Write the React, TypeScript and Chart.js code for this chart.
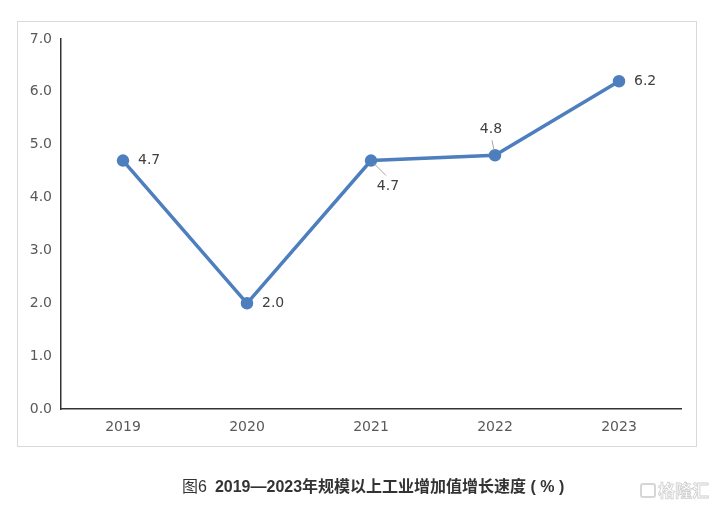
import React, { useEffect, useRef } from "react";
import { Chart, registerables } from "chart.js";

Chart.register(...registerables);

const years = ["2019", "2020", "2021", "2022", "2023"];
const growth = [4.7, 2.0, 4.7, 4.8, 6.2];
const valueLabels = ["4.7", "2.0", "4.7", "4.8", "6.2"];
const titlePrefix = "图6";
const titleMain = "2019—2023年规模以上工业增加值增长速度 ( % )";
const watermark = "格隆汇";

// label placement per point: dx, dy, alignment, optional leader line
const placement = [
  { dx: 15, dy: 0, align: "left", leader: null },
  { dx: 15, dy: 0, align: "left", leader: null },
  { dx: 17, dy: 26, align: "center", leader: [3, 3, 15, 15] },
  { dx: -4, dy: -26, align: "center", leader: [-1, -5, -3, -15] },
  { dx: 15, dy: 0, align: "left", leader: null },
];

const labelPlugin = {
  id: "valueLabels",
  afterDatasetsDraw(chart: any) {
    const ctx = chart.ctx;
    const meta = chart.getDatasetMeta(0);
    ctx.save();
    meta.data.forEach((pt: any, i: number) => {
      const p = placement[i];
      if (p.leader) {
        ctx.strokeStyle = "#a6a6a6";
        ctx.lineWidth = 1;
        ctx.beginPath();
        ctx.moveTo(pt.x + p.leader[0], pt.y + p.leader[1]);
        ctx.lineTo(pt.x + p.leader[2], pt.y + p.leader[3]);
        ctx.stroke();
      }
      ctx.fillStyle = "#404040";
      ctx.font = "14px 'DejaVu Sans'";
      ctx.textAlign = p.align;
      ctx.textBaseline = "middle";
      ctx.fillText(valueLabels[i], pt.x + p.dx, pt.y + p.dy);
    });
    ctx.restore();
  },
};

export default function App() {
  const ref = useRef<HTMLCanvasElement | null>(null);
  useEffect(() => {
    if (!ref.current) return;
    const chart = new Chart(ref.current, {
      type: "line",
      data: {
        labels: years,
        datasets: [
          {
            data: growth,
            borderColor: "#4d7ebd",
            backgroundColor: "#4d7ebd",
            borderWidth: 3.5,
            pointRadius: 4.5,
            pointHoverRadius: 4.5,
            pointBackgroundColor: "#4d7ebd",
            pointBorderColor: "#4d7ebd",
            tension: 0,
          },
        ],
      },
      options: {
        animation: false,
        responsive: false,
        maintainAspectRatio: false,
        layout: { padding: { left: 0, top: 39, right: 35, bottom: 0 } },
        plugins: {
          legend: { display: false },
          tooltip: { enabled: false },
          title: { display: false },
        },
        scales: {
          x: {
            offset: true,
            grid: { display: false, drawTicks: false },
            border: { display: true, color: "#333333", width: 1.5 },
            ticks: {
              color: "#595959",
              font: { family: "'DejaVu Sans'", size: 14 },
              padding: 10,
            },
            afterFit(scale: any) {
              scale.height = 97;
            },
          },
          y: {
            min: 0,
            max: 7,
            grid: { display: false, drawTicks: false },
            border: { display: true, color: "#333333", width: 1.5 },
            ticks: {
              stepSize: 1,
              color: "#595959",
              font: { family: "'DejaVu Sans'", size: 14 },
              padding: 9,
              callback: (v: any) => Number(v).toFixed(1),
            },
            afterFit(scale: any) {
              scale.width = 61;
            },
          },
        },
      },
      plugins: [labelPlugin],
    });
    return () => chart.destroy();
  }, []);

  return (
    <div
      style={{
        position: "fixed",
        left: 0,
        top: 0,
        width: 716,
        height: 506,
        background: "#ffffff",
        overflow: "hidden",
      }}
    >
      <div
        style={{
          position: "absolute",
          left: 17,
          top: 21,
          width: 680,
          height: 426,
          border: "1px solid #d9d9d9",
          boxSizing: "border-box",
        }}
      />
      <canvas
        ref={ref}
        width={716}
        height={506}
        style={{ position: "absolute", left: 0, top: 0, width: 716, height: 506 }}
      />
      <div
        style={{
          position: "absolute",
          left: 182,
          top: 477,
          fontFamily: "'Liberation Sans', 'Noto Sans CJK SC', sans-serif",
          fontSize: 16,
          color: "#333333",
          whiteSpace: "nowrap",
          lineHeight: "20px",
        }}
      >
        <span>{titlePrefix}</span>
        <span style={{ fontWeight: "bold", marginLeft: 8 }}>{titleMain}</span>
      </div>
      <div
        style={{
          position: "absolute",
          left: 640,
          top: 480,
          fontFamily: "'Noto Sans CJK SC', sans-serif",
          fontSize: 17,
          fontWeight: "bold",
          color: "#ffffff",
          WebkitTextStroke: "0.8px #cfcfcf",
          whiteSpace: "nowrap",
          lineHeight: "20px",
          display: "flex",
          alignItems: "center",
        }}
      >
        <span
          style={{
            display: "inline-block",
            width: 16,
            height: 15,
            border: "2px solid #d6d6d6",
            borderRadius: 3,
            boxSizing: "border-box",
            marginRight: 2,
          }}
        />
        <span>{watermark}</span>
      </div>
    </div>
  );
}
